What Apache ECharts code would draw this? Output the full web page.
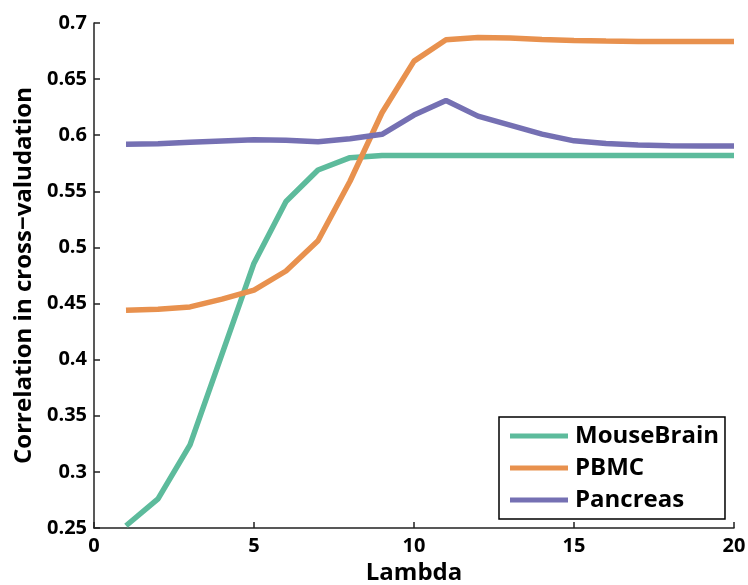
<!DOCTYPE html>
<html>
<head>
<meta charset="utf-8">
<script src="https://cdn.jsdelivr.net/npm/echarts@6/dist/echarts.min.js"></script>
<style>
  html, body { margin: 0; padding: 0; background: #fff; }
  #chart { width: 748px; height: 585px; }
</style>
</head>
<body>
<div id="chart"></div>
<script>
const lambdas = [1, 2, 3, 4, 5, 6, 7, 8, 9, 10, 11, 12, 13, 14, 15, 16, 17, 18, 19, 20];
const mouseBrain = [0.252, 0.276, 0.324, 0.405, 0.486, 0.541, 0.569, 0.580, 0.582, 0.582, 0.582, 0.582, 0.582, 0.582, 0.582, 0.582, 0.582, 0.582, 0.582, 0.582];
const pbmc = [0.444, 0.445, 0.447, 0.454, 0.462, 0.479, 0.506, 0.559, 0.620, 0.666, 0.685, 0.687, 0.6866, 0.6854, 0.6845, 0.684, 0.6836, 0.6835, 0.6835, 0.6835];
const pancreas = [0.592, 0.5925, 0.5937, 0.5949, 0.596, 0.5955, 0.5942, 0.5969, 0.6008, 0.618, 0.631, 0.617, 0.609, 0.601, 0.595, 0.5927, 0.5913, 0.5907, 0.5904, 0.5904];
const seriesNames = ['MouseBrain', 'PBMC', 'Pancreas'];
const colors = ['#5dbb9c', '#e8914e', '#7570b3'];

const chart = echarts.init(document.getElementById('chart'));
const font = '"Open Sans", "DejaVu Sans", sans-serif';
const pairs = (ys) => lambdas.map((x, i) => [x, ys[i]]);

const option = {
  animation: false,
  textStyle: { fontFamily: font },
  // v6 shrinks the grid to fit axis names; the reference lets "Lambda" run off the bottom
  grid: { left: 94, right: 14, top: 23, bottom: 57, containLabel: false, outerBoundsMode: 'none' },
  legend: {
    orient: 'vertical',
    left: 499,
    top: 417,
    padding: [7, 6, 7, 11],
    itemGap: 8,
    itemWidth: 58,
    itemHeight: 5,
    icon: 'rect',
    borderColor: '#000',
    borderWidth: 1.5,
    borderRadius: 0,
    data: seriesNames,
    textStyle: { fontFamily: font, fontWeight: 'bold', fontSize: 24, color: '#000', padding: [0, 0, 0, 2] }
  },
  xAxis: {
    type: 'value',
    min: 0,
    max: 20,
    interval: 5,
    name: 'Lambda',
    nameLocation: 'middle',
    nameGap: 30,
    nameTextStyle: { fontFamily: font, fontWeight: 'bold', fontSize: 24, color: '#000' },
    axisLine: { lineStyle: { color: '#222', width: 1.5 } },
    axisTick: { inside: true, length: 6, lineStyle: { color: '#222', width: 1.5 } },
    axisLabel: { fontFamily: font, fontWeight: 'bold', fontSize: 20, color: '#000', margin: 8 },
    splitLine: { show: false }
  },
  yAxis: {
    type: 'value',
    min: 0.25,
    max: 0.7,
    interval: 0.05,
    name: 'Correlation in cross\u2212valudation',
    nameLocation: 'middle',
    nameGap: 57,
    nameTextStyle: { fontFamily: font, fontWeight: 'bold', fontSize: 24, color: '#000' },
    axisLine: { show: true, lineStyle: { color: '#222', width: 1.5 } },
    axisTick: { show: true, inside: true, length: 6, lineStyle: { color: '#222', width: 1.5 } },
    axisLabel: {
      fontFamily: font, fontWeight: 'bold', fontSize: 20, color: '#000', margin: 7,
      formatter: (v) => String(+v.toFixed(2))
    },
    splitLine: { show: false }
  },
  series: [mouseBrain, pbmc, pancreas].map((ys, i) => ({
    name: seriesNames[i],
    type: 'line',
    data: pairs(ys),
    showSymbol: false,
    symbol: 'none',
    lineStyle: { color: colors[i], width: 5.5 },
    itemStyle: { color: colors[i] }
  }))
};

chart.setOption(option);
</script>
</body>
</html>
